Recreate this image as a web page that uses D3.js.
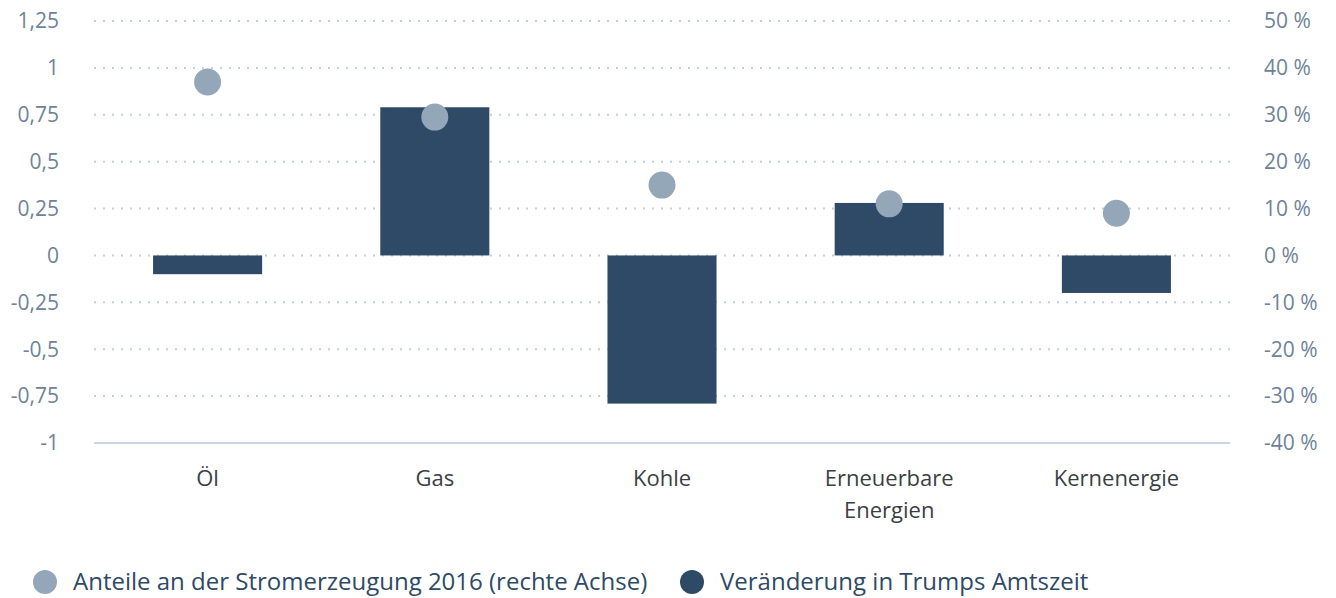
<!DOCTYPE html>
<html>
<head>
<meta charset="utf-8">
<script src="https://cdn.jsdelivr.net/npm/d3@7"></script>
<style>
  body { margin: 0; background: #fff; }
  svg text { font-family: "Source Sans Pro", "Open Sans", "Noto Sans", sans-serif; }
</style>
</head>
<body>
<div id="chart"></div>
<script>
// data
const categories = [['Öl'], ['Gas'], ['Kohle'], ['Erneuerbare', 'Energien'], ['Kernenergie']];
const changeValues = [-0.1, 0.79, -0.79, 0.28, -0.2];     // left axis
const shareValues = [37, 29.5, 15, 11, 9];                 // right axis, percent
const leftTicks = [-1, -0.75, -0.5, -0.25, 0, 0.25, 0.5, 0.75, 1, 1.25];
const rightTicks = [-40, -30, -20, -10, 0, 10, 20, 30, 40, 50];
const legendItems = [
  { label: 'Anteile an der Stromerzeugung 2016 (rechte Achse)', color: '#94a7b8' },
  { label: 'Veränderung in Trumps Amtszeit', color: '#2e4a66' }
];

const width = 1336, height = 598;
const margin = { left: 94, right: 106, top: 21, bottom: 155 };

const svg = d3.select('#chart').append('svg')
    .attr('width', width).attr('height', height);

const x = d3.scaleBand()
    .domain(categories.map(d => d.join(' ')))
    .range([margin.left, width - margin.right])
    .paddingInner(0.52).paddingOuter(0.26);

const yL = d3.scaleLinear().domain([-1, 1.25]).range([height - margin.bottom, margin.top]);
const yR = d3.scaleLinear().domain([-40, 50]).range([height - margin.bottom, margin.top]);

const fmtL = d => String(d).replace('.', ',');
const fmtR = d => d + '\u00A0%';

// gridlines
svg.append('g').selectAll('line').data(leftTicks.filter(d => d > -1)).join('line')
    .attr('x1', margin.left).attr('x2', width - margin.right)
    .attr('y1', d => yL(d)).attr('y2', d => yL(d))
    .attr('stroke', '#c3cfdb').attr('stroke-width', 2)
    .attr('stroke-dasharray', '2 7');

svg.append('line')
    .attr('x1', margin.left).attr('x2', width - margin.right)
    .attr('y1', yL(-1)).attr('y2', yL(-1))
    .attr('stroke', '#c9d4e6').attr('stroke-width', 2);

// left axis
svg.append('g').selectAll('text').data(leftTicks).join('text')
    .attr('x', 59).attr('y', d => yL(d)).attr('dy', '0.35em')
    .attr('text-anchor', 'end').attr('font-size', 21).attr('fill', '#6e8398')
    .text(fmtL);

// right axis
svg.append('g').selectAll('text').data(rightTicks).join('text')
    .attr('x', 1264).attr('y', d => yR(d)).attr('dy', '0.35em')
    .attr('text-anchor', 'start').attr('font-size', 21).attr('fill', '#6e8398')
    .text(fmtR);

// bars
svg.append('g').selectAll('rect').data(changeValues).join('rect')
    .attr('x', (d, i) => x(categories[i].join(' ')))
    .attr('width', x.bandwidth())
    .attr('y', d => yL(Math.max(0, d)))
    .attr('height', d => Math.abs(yL(d) - yL(0)))
    .attr('fill', '#2e4a66');

// dots
svg.append('g').selectAll('circle').data(shareValues).join('circle')
    .attr('cx', (d, i) => x(categories[i].join(' ')) + x.bandwidth() / 2)
    .attr('cy', d => yR(d))
    .attr('r', 13.5)
    .attr('fill', '#94a7b8');

// category labels
const cat = svg.append('g').selectAll('text').data(categories).join('text')
    .attr('x', d => x(d.join(' ')) + x.bandwidth() / 2)
    .attr('y', 486)
    .attr('text-anchor', 'middle').attr('font-size', 22).attr('fill', '#3a3f45');
cat.selectAll('tspan').data(d => d).join('tspan')
    .attr('x', function() { return d3.select(this.parentNode).attr('x'); })
    .attr('dy', (d, i) => i === 0 ? 0 : 32)
    .text(d => d);

// legend
const legendX = [45, 692];
const lg = svg.append('g').selectAll('g').data(legendItems).join('g')
    .attr('transform', (d, i) => `translate(${legendX[i]},582)`);
lg.append('circle').attr('r', 12).attr('fill', d => d.color);
lg.append('text').attr('x', 28).attr('dy', '0.35em')
    .attr('font-size', 24).attr('fill', '#2e4a66')
    .text(d => d.label);
</script>
</body>
</html>
